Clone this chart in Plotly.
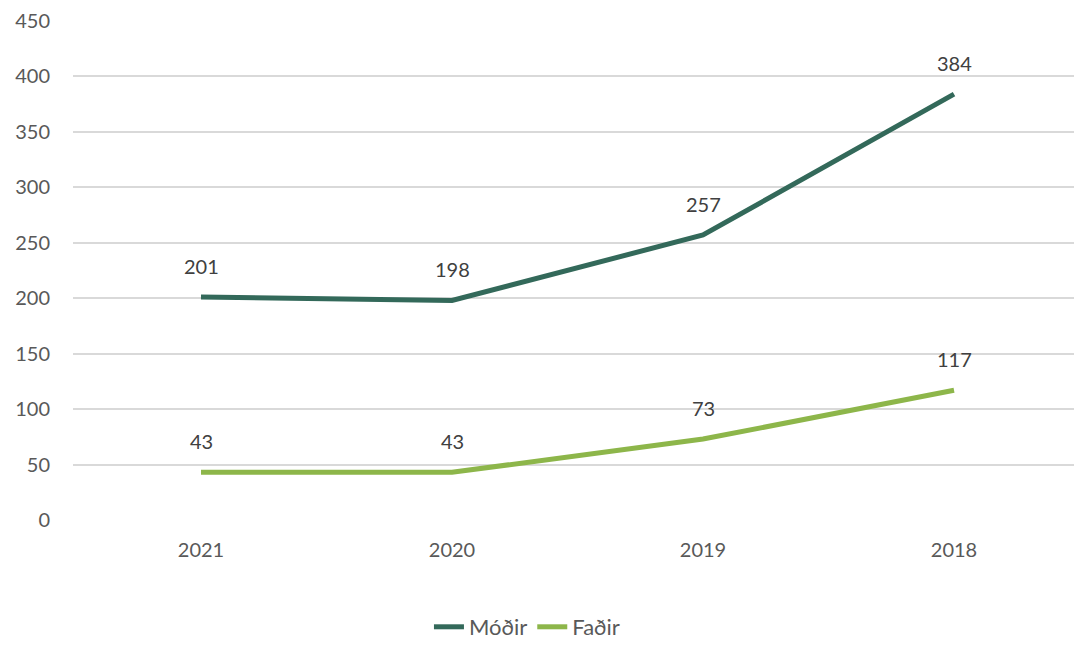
import plotly.graph_objects as go

years = ["2021", "2020", "2019", "2018"]
modir = [201, 198, 257, 384]
fadir = [43, 43, 73, 117]
series_names = ["Móðir", "Faðir"]
colors = ["#33695A", "#8DB64A"]

fig = go.Figure()
for name, vals, col in zip(series_names, [modir, fadir], colors):
    fig.add_trace(go.Scatter(x=years, y=vals, mode="lines", name=name,
                             line=dict(color=col, width=5)))
    for i, yv in enumerate(vals):
        fig.add_annotation(x=i, y=yv, xref="x", yref="y", text=str(yv), showarrow=False,
                           yshift=31, font=dict(size=20, color="#404040"))

fig.update_layout(
    width=1074, height=648,
    margin=dict(l=73, r=0, t=21, b=128),
    plot_bgcolor="white", paper_bgcolor="white",
    font=dict(family="Lato, Open Sans, sans-serif", size=20, color="#595959"),
    showlegend=True,
    legend=dict(orientation="h", x=0.4535, xanchor="center", y=-0.2565, yanchor="bottom",
                font=dict(size=22, color="#595959"), itemwidth=30, tracegroupgap=0),
)
fig.update_xaxes(type="category", range=[-0.51, 3.478], showgrid=False, zeroline=False,
                 showline=False, ticks="outside", ticklen=12, tickcolor="rgba(0,0,0,0)",
                 tickfont=dict(size=20, color="#595959"))
fig.update_yaxes(range=[0, 450], dtick=50, showgrid=True, gridcolor="#D9D9D9", gridwidth=1.5,
                 zeroline=False, showline=False, ticks="outside", ticklen=18,
                 tickcolor="rgba(0,0,0,0)", tickfont=dict(size=20, color="#595959"))

fig.write_html("out.html", config={"displayModeBar": False},
               post_script="document.body.style.margin='0px';")
